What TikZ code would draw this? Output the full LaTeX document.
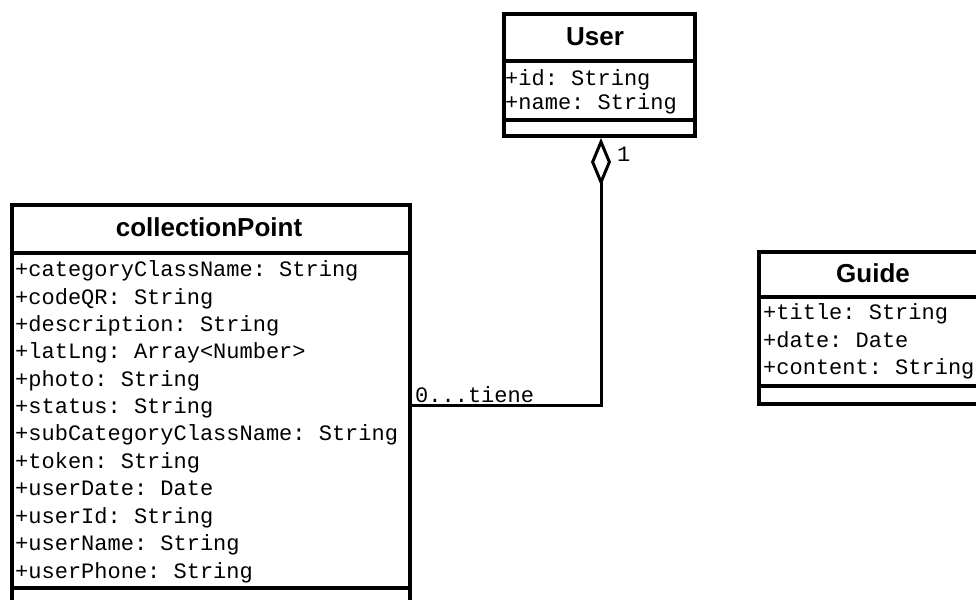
\documentclass[tikz,border=0pt]{standalone}
\usepackage{fontspec}
\setmainfont{Liberation Sans}
\setmonofont{Liberation Mono}
\usetikzlibrary{arrows.meta}

\tikzset{
  classbox/.style={draw, line width=4pt, inner sep=0pt, anchor=north west},
  classname/.style={font=\bfseries\fontsize{26}{30}\selectfont, inner sep=0pt},
  attr/.style={font=\ttfamily\fontsize{22}{26}\selectfont, anchor=base west, inner sep=0pt},
  sepline/.style={line width=4pt},
  assoc/.style={line width=3pt}
}

\begin{document}
\begin{tikzpicture}[x=1pt, y=-1pt]
        \useasboundingbox (0,0) rectangle (976,599);
        \clip (0,0) rectangle (976,599);

        % Klasse User
        \node[classbox, minimum width=191, minimum height=122] (user) at (502,12) {};
        \draw[sepline] ([yshift=-49pt]user.north west) -- ([yshift=-49pt]user.north east);
        \draw[sepline] ([yshift=-108pt]user.north west) -- ([yshift=-108pt]user.north east);
        \node[classname] (usertitle) at (595,37) {User};
        \node[attr] (userid) at (505,86) {+id: String};
        \node[attr] (username) at (505,110) {+name: String};

        % Klasse collectionPoint (unten abgeschnitten)
        \node[classbox, minimum width=398, minimum height=420] (cp) at (10,203) {};
        \draw[sepline] ([yshift=-50pt]cp.north west) -- ([yshift=-50pt]cp.north east);
        \draw[sepline] ([yshift=-385pt]cp.north west) -- ([yshift=-385pt]cp.north east);
        \node[classname] (cptitle) at (209,227) {collectionPoint};
        \node[attr] (cp1) at (15,276) {+categoryClassName: String};
        \node[attr] (cp2) at (15,304) {+codeQR: String};
        \node[attr] (cp3) at (15,331) {+description: String};
        \node[attr] (cp4) at (15,358) {+latLng: Array<Number>};
        \node[attr] (cp5) at (15,386) {+photo: String};
        \node[attr] (cp6) at (15,413) {+status: String};
        \node[attr] (cp7) at (15,440) {+subCategoryClassName: String};
        \node[attr] (cp8) at (15,468) {+token: String};
        \node[attr] (cp9) at (15,495) {+userDate: Date};
        \node[attr] (cp10) at (15,523) {+userId: String};
        \node[attr] (cp11) at (15,550) {+userName: String};
        \node[attr] (cp12) at (15,578) {+userPhone: String};

        % Klasse Guide (rechts abgeschnitten)
        \node[classbox, minimum width=230, minimum height=152] (guide) at (757,250) {};
        \draw[sepline] ([yshift=-47pt]guide.north west) -- ([yshift=-47pt]guide.north east);
        \draw[sepline] ([yshift=-136pt]guide.north west) -- ([yshift=-136pt]guide.north east);
        \node[classname] (guidetitle) at (873,273) {Guide};
        \node[attr] (guide1) at (763,319) {+title: String};
        \node[attr] (guide2) at (763,347) {+date: Date};
        \node[attr] (guide3) at (763,374) {+content: String};

        % Aggregation User <>--- collectionPoint
        \coordinate (userbottom) at ([xshift=1.5pt]user.south);
        \coordinate (cpright) at (cp.north east |- 0,405);
        \draw[assoc, {Diamond[open, length=48pt, width=20pt]}-] (userbottom) |- (cpright);
        \node[attr] (multuser) at (617,161) {1};
        \node[attr] (multcp) at (415,402) {0...tiene};

\end{tikzpicture}
\end{document}
